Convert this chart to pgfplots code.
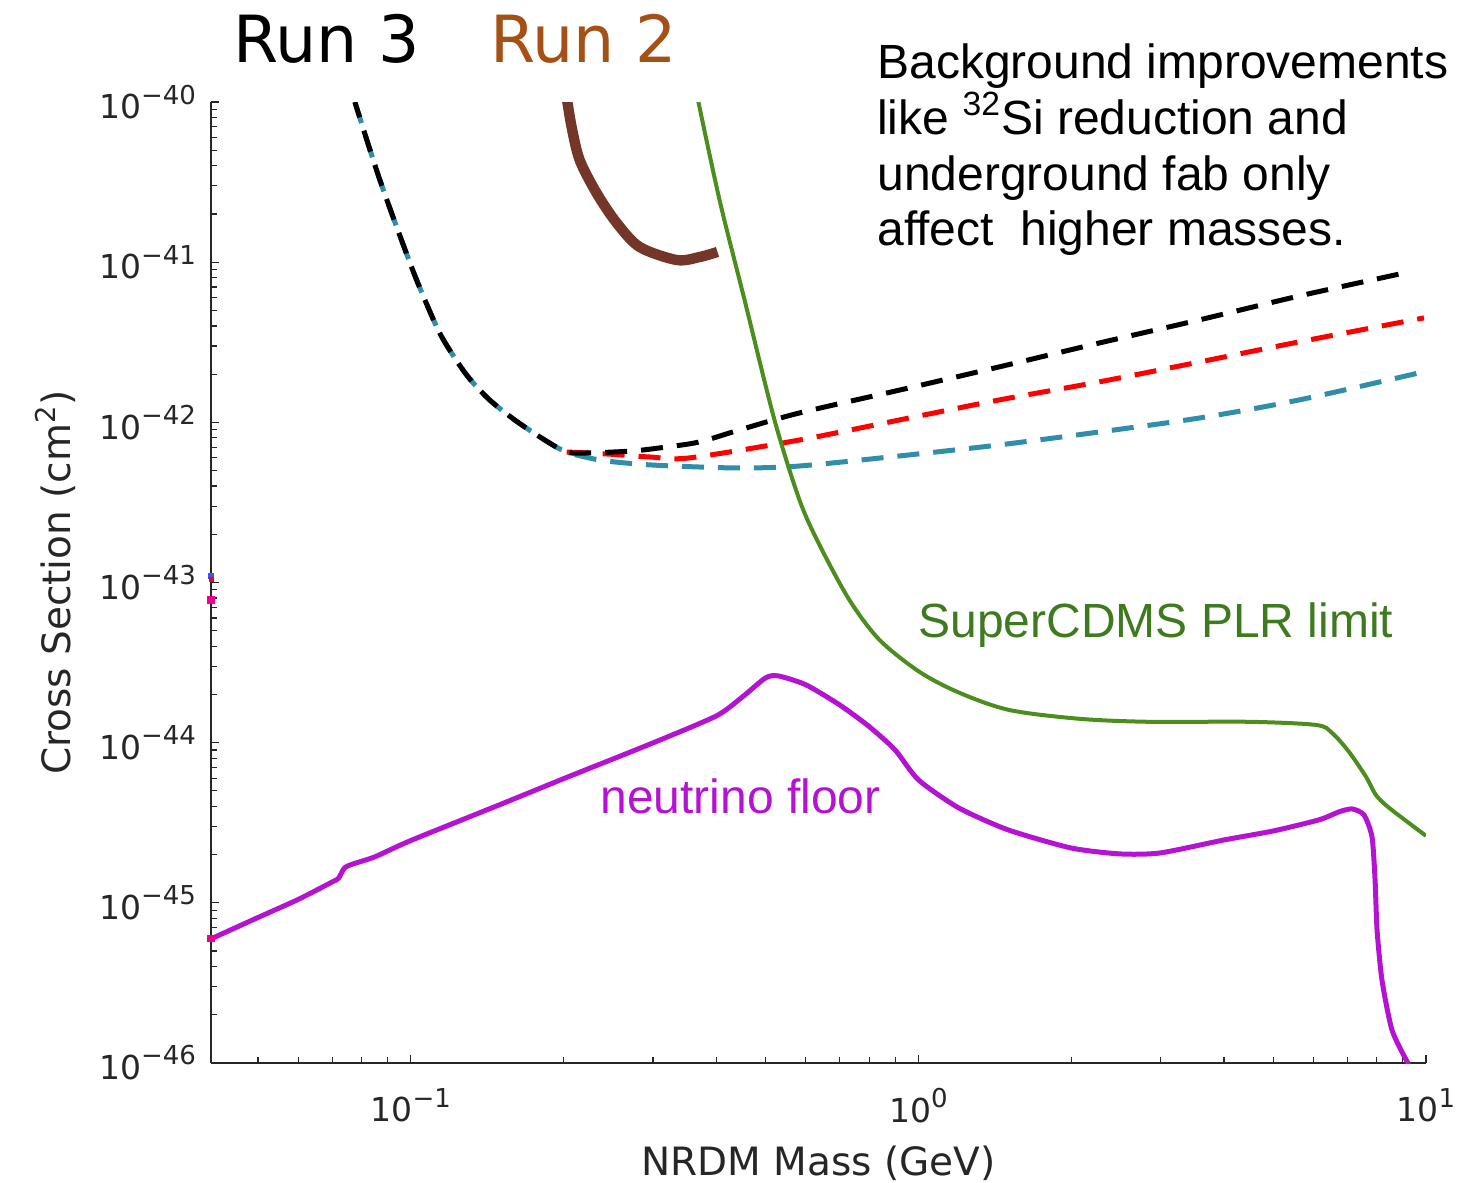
\documentclass[border=0pt]{standalone}
\usepackage{pgfplots}
\pgfplotsset{compat=1.18}
\usepackage{fontspec}
\setmainfont{Liberation Sans}
\newfontfamily\dejavu{DejaVu Sans}
\definecolor{axisgray}{RGB}{38,38,38}
\definecolor{cdmsgreen}{RGB}{76,142,30}
\definecolor{cdmstext}{RGB}{62,122,30}
\definecolor{nupurple}{RGB}{180,20,210}
\definecolor{runbrown}{RGB}{117,54,42}
\definecolor{runtwo}{RGB}{165,80,20}
\definecolor{teal2}{RGB}{48,142,170}
\newcommand\pw[1]{10\raisebox{0.45em}{\fontsize{13}{14}\selectfont #1}}
\begin{document}
\begin{tikzpicture}
\begin{axis}[
  xmode=log, ymode=log,
  scale only axis, width=607.5pt, height=480.5pt,
  xmin=0.0404, xmax=10, ymin=1e-46, ymax=1e-40,
  axis x line*=bottom, axis y line*=left,
  axis line style={draw=axisgray, line width=0.9pt, -},
  tick align=inside,
  major tick length=4pt, minor tick length=3pt,
  every tick/.style={axisgray, line width=0.6pt},
  xtick={0.1,1,10},
  xticklabels={\pw{−1},\pw{0},\pw{1}},
  minor xtick={0.05,0.06,0.07,0.08,0.09,0.2,0.3,0.4,0.5,0.6,0.7,0.8,0.9,2,3,4,5,6,7,8,9},
  ytick={1e-46,1e-45,1e-44,1e-43,1e-42,1e-41,1e-40},
  yticklabels={\pw{−46},\pw{−45},\pw{−44},\pw{−43},\pw{−42},\pw{−41},\pw{−40}},
  minor ytick={2e-46,3e-46,4e-46,5e-46,6e-46,7e-46,8e-46,9e-46,
               2e-45,3e-45,4e-45,5e-45,6e-45,7e-45,8e-45,9e-45,
               2e-44,3e-44,4e-44,5e-44,6e-44,7e-44,8e-44,9e-44,
               2e-43,3e-43,4e-43,5e-43,6e-43,7e-43,8e-43,9e-43,
               2e-42,3e-42,4e-42,5e-42,6e-42,7e-42,8e-42,9e-42,
               2e-41,3e-41,4e-41,5e-41,6e-41,7e-41,8e-41,9e-41},
  ticklabel style={font=\dejavu\fontsize{16.5}{18}\selectfont, text=axisgray},
  yticklabel style={xshift=-4pt},
  xticklabel style={yshift=-9pt},
  xlabel={NRDM Mass (GeV)},
  ylabel={Cross Section (cm\textsuperscript{2})},
  label style={font=\dejavu\fontsize{19.5}{22}\selectfont, text=axisgray},
  xlabel style={at={(axis description cs:0.5,-0.104)}, anchor=center},
  ylabel style={at={(axis description cs:-0.1284,0.5)}, anchor=center},
  clip mode=individual,
]
% teal dashed
\addplot[teal2, line width=2.5pt, dash pattern=on 11pt off 7pt, smooth, tension=0.5] coordinates {
(0.0776,1e-40)(0.0869,3.26e-41)(0.0995,1.0e-41)(0.1066,5.81e-42)(0.114,3.61e-42)(0.1221,2.52e-42)
(0.1306,1.87e-42)(0.143,1.38e-42)(0.1602,1.035e-42)(0.1836,7.76e-43)(0.2028,6.53e-43)
(0.2355,5.82e-43)(0.2786,5.50e-43)
(0.328,5.34e-43)(0.4443,5.19e-43)(0.583,5.34e-43)(0.9175,6.17e-43)(1.443,7.23e-43)
(2.272,8.71e-43)(3.574,1.064e-42)(5.623,1.38e-42)(9.91,2.07e-42)};
% red dashed
\addplot[red, line width=2.5pt, dash pattern=on 11pt off 7pt, smooth, tension=0.5] coordinates {
(0.2028,6.53e-43)(0.243,6.35e-43)(0.2954,6.08e-43)(0.354,6.0e-43)(0.583,7.76e-43)
(0.9175,1.035e-42)(1.443,1.38e-42)(2.272,1.79e-42)(3.574,2.38e-42)(5.623,3.18e-42)(9.91,4.49e-42)};
% black dashed
\addplot[black, line width=2.5pt, dash pattern=on 11pt off 7pt, dash phase=3pt, smooth, tension=0.5] coordinates {
(0.0776,1e-40)(0.0869,3.26e-41)(0.0995,1.0e-41)(0.1066,5.81e-42)(0.114,3.61e-42)(0.1221,2.52e-42)
(0.1306,1.87e-42)(0.143,1.38e-42)(0.1602,1.035e-42)(0.1836,7.76e-43)(0.2028,6.53e-43)
(0.222,6.44e-43)(0.2735,6.63e-43)
(0.3191,7.02e-43)(0.3706,7.55e-43)(0.4443,8.97e-43)(0.583,1.145e-42)(0.9175,1.59e-42)
(1.443,2.22e-42)(2.272,3.13e-42)(3.574,4.36e-42)(5.623,6.15e-42)(9.26,8.69e-42)};
% Run 2 (brown)
\addplot[runbrown, line width=5.2pt, smooth, tension=0.5] coordinates {
(0.2028,1.07e-40)(0.2074,6.98e-41)(0.2151,4.35e-41)(0.2323,2.70e-41)(0.2544,1.76e-41)
(0.2823,1.245e-41)(0.334,1.032e-41)(0.3706,1.077e-41)(0.402,1.159e-41)};
% SuperCDMS PLR limit
\addplot[cdmsgreen, line width=2pt, smooth, tension=0.5] coordinates {
(0.3673,1.06e-40)(0.4058,2.44e-41)(0.4545,5.81e-42)(0.5206,1.035e-42)(0.583,3.28e-43)
(0.6383,1.72e-43)(0.7313,7.78e-44)(0.8379,4.39e-44)(1.0046,2.77e-44)(1.204,2.05e-44)
(1.51,1.60e-44)(2.075,1.41e-44)(2.849,1.35e-44)(4.483,1.35e-44)(6.074,1.29e-44)
(6.531,1.15e-44)(7.053,8.76e-45)(7.62,6.12e-45)(7.97,4.72e-45)(8.46,3.92e-45)(10,2.62e-45)};
% neutrino floor
\addplot[nupurple, line width=2.5pt, smooth, tension=0.4] coordinates {
(0.0404,5.96e-46)(0.05,8.1e-46)(0.06,1.05e-45)(0.07,1.35e-45)(0.072,1.42e-45)
(0.074,1.65e-45)(0.077,1.75e-45)(0.085,1.94e-45)(0.1,2.45e-45)(0.15,4.11e-45)
(0.2,5.96e-45)(0.3,9.97e-45)(0.4,1.47e-44)(0.45,1.93e-44)(0.5,2.54e-44)(0.53,2.61e-44)
(0.6,2.30e-44)(0.7,1.72e-44)(0.8,1.26e-44)(0.9,9.0e-45)(1.0,5.86e-45)(1.2,3.92e-45)
(1.5,2.86e-45)(2,2.20e-45)(2.5,2.02e-45)(3,2.05e-45)(4,2.47e-45)(5,2.81e-45)
(6.16,3.30e-45)(6.74,3.70e-45)(7.15,3.86e-45)(7.55,3.54e-45)(7.83,2.58e-45)
(7.94,1.39e-45)(8.01,6.78e-46)(8.19,3.30e-46)(8.57,1.61e-46)(9.18,1.02e-46)(9.25,1e-46)};
% small artefacts on the left axis
\addplot[only marks, mark=square*, mark size=1.6pt, magenta] coordinates {(0.0404,7.8e-44)(0.0404,6e-46)};
\addplot[only marks, mark=square*, mark size=1.2pt, blue!70] coordinates {(0.0404,1.1e-43)};
\addplot[only marks, mark=square*, mark size=1.0pt, red] coordinates {(0.0404,1.05e-43)};
% texts
\node[anchor=base west, inner sep=0pt, font=\dejavu\fontsize{32.5}{36}\selectfont, text=black] at (axis description cs:0.0181,1.0416) {Run 3};
\node[anchor=base west, inner sep=0pt, font=\dejavu\fontsize{32.5}{36}\selectfont, text=runtwo] at (axis description cs:0.2296,1.0416) {Run 2};
\node[anchor=base west, inner sep=0pt, font=\fontsize{24}{28}\selectfont] at (axis description cs:0.5481,1.0250) {Background improvements};
\node[anchor=base west, inner sep=0pt, font=\fontsize{24}{28}\selectfont] at (axis description cs:0.5481,0.9667) {like \textsuperscript{32}Si reduction and};
\node[anchor=base west, inner sep=0pt, font=\fontsize{24}{28}\selectfont] at (axis description cs:0.5481,0.9084) {underground fab only};
\node[anchor=base west, inner sep=0pt, font=\fontsize{24}{28}\selectfont] at (axis description cs:0.5481,0.8502) {affect\ \ higher masses.};
\node[anchor=base west, inner sep=0pt, font=\fontsize{24}{28}\selectfont, text=cdmstext] at (axis description cs:0.5819,0.4433) {SuperCDMS PLR limit};
\node[anchor=base west, inner sep=0pt, font=\fontsize{24}{28}\selectfont, text=nupurple] at (axis description cs:0.3202,0.2601) {neutrino floor};
\coordinate (bbl) at (axis description cs:-0.1737,-0.1249);
\coordinate (btr) at (axis description cs:1.0313,1.1061);
\end{axis}
\pgfresetboundingbox
\useasboundingbox (bbl) rectangle (btr);
\end{tikzpicture}
\end{document}
